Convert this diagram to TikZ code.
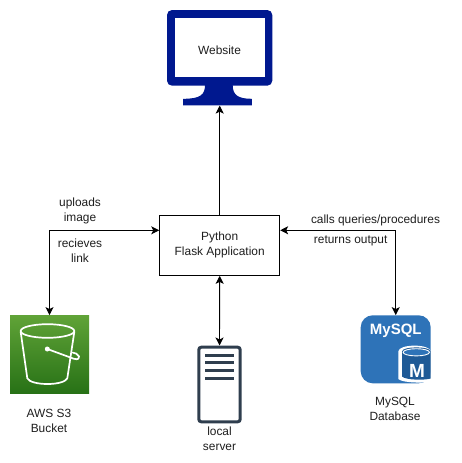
\documentclass[tikz,border=0pt]{standalone}
\usepackage{fontspec}
\setmainfont{Liberation Sans}
\usetikzlibrary{arrows.meta}
\definecolor{monitorblue}{HTML}{00188F}
\definecolor{serverdark}{HTML}{2F3E4E}
\definecolor{mysqlblue}{HTML}{2E73B8}
\definecolor{mysqldark}{HTML}{1F5A96}
\definecolor{textgrey}{HTML}{1E1E1E}
\definecolor{sthree}{HTML}{60A337}
\definecolor{sthreeb}{HTML}{277116}
\tikzset{
  lbl/.style={font=\fontsize{11.9}{15}\selectfont, text=textgrey, align=center, inner sep=0pt},
  iconword/.style={inner sep=0pt, text=white, font=\bfseries\fontsize{#1}{#1}\selectfont},
  link/.style={draw=black, line width=0.9pt, {Stealth[length=8pt,width=8pt,inset=2pt]}-{Stealth[length=8pt,width=8pt,inset=2pt]}},
  linkone/.style={draw=black, line width=0.9pt, -{Stealth[length=8pt,width=8pt,inset=2pt]}}
}
\begin{document}
\begin{tikzpicture}[x=1pt,y=-1pt]
\useasboundingbox (0,0) rectangle (461,463);
\fill[white] (0,0) rectangle (461,463);

% Flask box
\node[draw=black, line width=0.9pt, minimum width=120pt, minimum height=60pt, lbl] (flask) at (219.7,245.4) {Python\\Flask Application\hspace{3.5pt}};

% Monitor
\fill[monitorblue, rounded corners=5pt] (167,10) rectangle (272.3,85.7);
\fill[white] (174.5,18) rectangle (264.5,77);
\fill[monitorblue] (205,85) .. controls (205,95) and (200,98.8) .. (183,98.8) -- (183,105.4) -- (251.8,105.4) -- (251.8,98.8) .. controls (238,98.8) and (232.7,95) .. (232.7,85) -- cycle;
\node[lbl] (website) at (219.5,50) {Website};
\coordinate (monitorbase) at (219.7,105.6);

% S3 bucket
\shade[top color=sthree, bottom color=sthreeb] (10,315.3) rectangle (89,393.7);
\begin{scope}[draw=white, line width=1.7pt, line join=round, line cap=round]
\draw (47.5,331) ellipse [x radius=26.8, y radius=6.8];
\draw (20.7,332) -- (27.3,378.3) .. controls (29,382) and (38,384) .. (47.5,384) .. controls (57,384) and (65.5,382) .. (67.3,378.3) -- (74.3,332);
\draw (47.3,349) -- (74,358.8) .. controls (78,360) and (80,358.3) .. (79,356.3) .. controls (78,354) and (75,352.8) .. (72.8,352.6);
\end{scope}
\fill[white] (47.3,349) circle (2.5pt);
\node[inner sep=0pt, minimum width=79pt, minimum height=78.4pt] (sthreeicon) at (49.5,354.5) {};
\node[lbl] (sthreelabel) at (49,420.7) {AWS S3\\Bucket};

% Server
\draw[serverdark, line width=3pt, rounded corners=2.5pt, fill=white] (198.8,347.2) rectangle (240.2,421.8);
\foreach \yy in {355.2,362.8,370.4,378}{\fill[serverdark] (205,\yy-1.5) rectangle (234,\yy+1.5);}
\node[inner sep=0pt, minimum width=44.4pt, minimum height=77.6pt] (servericon) at (219.5,384.5) {};
\node[lbl] (serverlabel) at (219.5,439) {local\\server};

% MySQL
\fill[mysqlblue, rounded corners=12pt] (360.7,315.3) rectangle (430.7,383.3);
\node[iconword=15] (mysqlword) at (395.8,330.5) {MySQL};
\fill[white] (398.3,351.5) -- (398.3,379) .. controls (403,383.2) and (425,383.2) .. (430.7,381.5) -- (430.7,351.5) .. controls (430.7,343.7) and (398.3,343.7) .. cycle;
\fill[mysqldark] (402,351.5) -- (402,376.5) .. controls (406,380.3) and (425,380.3) .. (430.7,378.5) -- (430.7,351.5) .. controls (430.7,346) and (402,346) .. cycle;
\draw[white, line width=0.9pt, fill=mysqlblue] (416.3,352.3) ellipse [x radius=13.2, y radius=3.6];
\node[iconword=19] (mysqlm) at (417,370.5) {M};
\node[inner sep=0pt, minimum width=70pt, minimum height=68pt] (mysqlicon) at (395.7,349.3) {};
\node[lbl] (mysqllabel) at (395,408.7) {MySQL\\Database};

% Free corner points
\coordinate (leftcorner) at (49.5,230.3);
\coordinate (rightcorner) at (395.7,230.3);
\coordinate (flaskleft) at (flask.west |- leftcorner);
\coordinate (flaskright) at (flask.east |- rightcorner);

% Connectors
\draw[linkone] (flask.north) -- (monitorbase);
\draw[link] (sthreeicon.north -| leftcorner) -- (leftcorner) -- (flaskleft);
\draw[link] (flask.south) -- (servericon.north);
\draw[link] (flaskright) -- (rightcorner) -- (mysqlicon.north);

% Labels
\node[lbl] (uploads) at (80,210.7) {uploads\\image};
\node[lbl] (recieves) at (80,250.7) {recieves\\link};
\node[lbl] (calls) at (375.5,220.5) {calls queries/procedures};
\node[lbl] (returns) at (350.7,240.5) {returns output};
\end{tikzpicture}
\end{document}
